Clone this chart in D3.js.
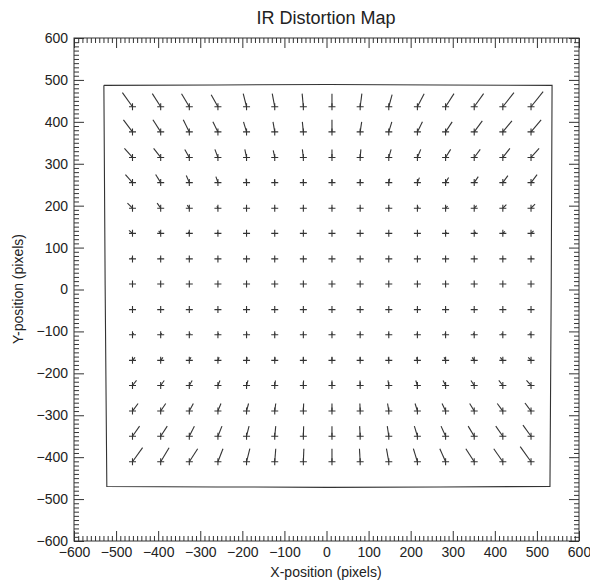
<!DOCTYPE html>
<html>
<head>
<meta charset="utf-8">
<script src="https://cdn.jsdelivr.net/npm/d3@7"></script>
<style>
  body { margin: 0; background: #fff; }
  text { font-family: "Liberation Sans", Arial, sans-serif; fill: #222; }
</style>
</head>
<body>
<svg></svg>
<script>
// tick labels
const majorTicks = [-600, -500, -400, -300, -200, -100, 0, 100, 200, 300, 400, 500, 600];

// grid of reference points (data units)
const gridX = [-461, -394, -326, -258, -190, -123, -55, 13, 80, 148, 216, 283, 351, 419, 486];
const gridY = [436, 376, 315, 255, 194, 134, 73, 13, -48, -108, -169, -229, -290, -350, -411];

// distortion per grid point, rows top to bottom, columns left to right
const distX = [
  [-10, -8.3, -7.7, -6.7, -3.3, -2.5, -1.2, 0, 1.7, 3.3, 6.7, 8.3, 9.3, 11, 12],
  [-9, -7.7, -6, -5, -3, -1.7, -1, 0, 1.5, 3, 5, 6.5, 8, 9, 10],
  [-8, -7, -4.5, -3, -1.7, -1.5, -1, 0, 0.7, 2.3, 3.3, 5, 6, 7, 8],
  [-7, -5, -3, -2, -0.5, -0.3, 0, 0, 0.3, 1, 2, 3, 4, 5, 6],
  [-5, -3.5, -2, -1, -0.3, 0, 0, 0, 0, 0.5, 1, 2, 2.5, 3.5, 4],
  [-3.5, -2, -1, -0.5, 0, 0, 0, 0, 0, 0, 0.5, 1, 1.5, 2, 2.5],
  [-1.5, -1, -0.5, 0, 0, 0, 0, 0, 0, 0, 0, 0, 0.5, 0.5, 1],
  [0, 0, 0, 0, 0, 0, 0, 0, 0, 0, 0, 0, 0, 0, 0],
  [0.3, 0.3, 0.2, 0.1, 0, 0, 0, 0, 0, 0, -0.1, -0.2, -0.3, -0.3, -0.4],
  [1.2, 1, 0.8, 0.6, 0.4, 0.2, 0, 0, 0, -0.2, -0.5, -0.7, -1, -1.2, -1.4],
  [2.5, 2.2, 1.7, 1.2, 0.8, 0.4, 0, 0, -0.1, -0.5, -1, -1.5, -2, -2.5, -2.8],
  [4, 3.5, 2.8, 2, 1.4, 0.7, 0.2, 0, -0.2, -0.8, -1.6, -2.5, -3.2, -4, -4.5],
  [5.5, 5, 4, 3, 2, 1, 0.3, 0, -0.3, -1.2, -2.3, -3.5, -4.5, -5.5, -6],
  [7, 6.5, 5, 4, 2.5, 1, 0.3, 0, -0.5, -1.5, -3, -4.5, -6, -7, -8],
  [10, 8.3, 8.3, 5, 3.3, 1, 0.5, 0, -0.7, -2.3, -4, -5.7, -8.3, -9, -10.7]
];
const distY = [
  [14, 13, 13, 12, 13, 13, 13, 13, 13, 12, 13, 13, 13, 14, 15],
  [12, 12, 12, 10, 10, 10, 10, 12, 10, 10, 10, 10, 11, 11, 12],
  [9, 9, 8, 8, 8, 7, 8, 8, 8, 8, 8, 8, 8, 9, 9],
  [8, 8, 7, 6, 4, 3, 3, 3, 3, 4, 5, 5, 6, 7, 8],
  [5, 5, 3, 2, 1, 1, 1, 1, 1, 1, 1.5, 2, 2.5, 3.5, 4],
  [3, 2.5, 1.5, 1, 0.5, 0, 0, 0, 0, 0, 0.5, 1, 1.5, 2, 2.5],
  [1, 1, 0.5, 0, 0, 0, 0, 0, 0, 0, 0, 0, 0.5, 0.5, 1],
  [0, 0, 0, 0, 0, 0, 0, 0, 0, 0, 0, 0, 0, 0, 0],
  [0.5, 0.5, 0.5, 0.5, 0.5, 0.5, 0.5, 0.5, 0.5, 0.5, 0.5, 0.5, 0.5, 0.5, 0.5],
  [1.5, 1.5, 1.5, 1.5, 1.5, 1.5, 1.5, 1.5, 1.5, 1.5, 1.5, 1.5, 1.5, 1.5, 1.5],
  [3, 3, 3, 3, 3, 3, 3, 3, 3, 3, 3, 3, 3, 3, 3],
  [5, 5, 5, 5, 5, 5, 5, 5, 5, 5, 5, 5, 5, 5, 5],
  [7.5, 7.5, 7.5, 7.5, 7.5, 7.5, 7.5, 7.5, 7.5, 7.5, 7.5, 7.5, 7.5, 7.5, 8],
  [10, 10, 10, 10, 10, 10, 10, 10, 10, 10, 10, 10, 10, 10, 11],
  [14, 14, 13, 13, 13, 13, 13, 13, 13, 13, 13, 13, 13, 13, 15]
];

// distorted detector outline
const outline = [
  [-529, 487], [-260, 488], [4, 489], [270, 488], [536, 487],
  [534, 10], [531, -470],
  [270, -471], [4, -472], [-260, -471], [-522, -470],
  [-526, 10], [-529, 487]
];

const vecScale = 2.4;  // vectors drawn exaggerated

const W = 590, H = 581;
const svg = d3.select("svg").attr("width", W).attr("height", H);

const x = d3.scaleLinear().domain([-600, 600]).range([74, 579]);
const y = d3.scaleLinear().domain([-600, 600]).range([541, 38]);

const minorTicks = d3.range(-600, 601, 10).filter(v => v % 100 !== 0);
const fmt = d => d < 0 ? "\u2212" + Math.abs(d) : "" + d;

function addAxis(axisFn, scale, tx, ty, labels) {
  const major = axisFn(scale).tickValues(majorTicks).tickSize(-10).tickSizeOuter(0)
    .tickPadding(labels ? 6 : 0).tickFormat(labels ? fmt : "");
  const minor = axisFn(scale).tickValues(minorTicks).tickSize(-5).tickSizeOuter(0).tickFormat("");
  [major, minor].forEach(a => {
    const g = svg.append("g").attr("transform", `translate(${tx},${ty})`).call(a);
    g.select(".domain").remove();
    g.selectAll("line").attr("stroke", "#333");
    g.selectAll("text").attr("font-size", 14).attr("font-family", "Liberation Sans, Arial, sans-serif").attr("fill", "#222");
  });
}
addAxis(d3.axisBottom, x, 0, 541, true);
addAxis(d3.axisTop, x, 0, 38, false);
addAxis(d3.axisLeft, y, 74, 0, true);
addAxis(d3.axisRight, y, 579, 0, false);

svg.append("rect")
  .attr("x", 74).attr("y", 38).attr("width", 579 - 74).attr("height", 541 - 38)
  .attr("fill", "none").attr("stroke", "#333").attr("stroke-width", 1);

// outline
svg.append("path")
  .datum(outline)
  .attr("d", d3.line().x(d => x(d[0])).y(d => y(d[1])))
  .attr("fill", "none").attr("stroke", "#333").attr("stroke-width", 1.1);

// vectors
const pts = [];
gridY.forEach((gy, j) => gridX.forEach((gx, i) => {
  pts.push({ gx, gy, dx: distX[j][i], dy: distY[j][i] });
}));

const g = svg.append("g").attr("id", "vectors");
g.selectAll("line.vec").data(pts).enter().append("line")
  .attr("class", "vec")
  .attr("x1", d => x(d.gx)).attr("y1", d => y(d.gy))
  .attr("x2", d => x(d.gx + d.dx * vecScale)).attr("y2", d => y(d.gy + d.dy * vecScale))
  .attr("stroke", "#333").attr("stroke-width", 1.1);

g.selectAll("path.cross").data(pts).enter().append("path")
  .attr("class", "cross")
  .attr("transform", d => `translate(${x(d.gx)},${y(d.gy)})`)
  .attr("d", "M-3.5,0H3.5M0,-3.5V3.5")
  .attr("stroke", "#333").attr("stroke-width", 1.1);

// titles
svg.append("text").attr("x", 326).attr("y", 24).attr("text-anchor", "middle")
  .attr("font-size", 18).text("IR Distortion Map");
svg.append("text").attr("x", 326).attr("y", 577).attr("text-anchor", "middle")
  .attr("font-size", 14).text("X-position (pixels)");
svg.append("text").attr("transform", "translate(23,289) rotate(-90)").attr("text-anchor", "middle")
  .attr("font-size", 14).text("Y-position (pixels)");
</script>
</body>
</html>
